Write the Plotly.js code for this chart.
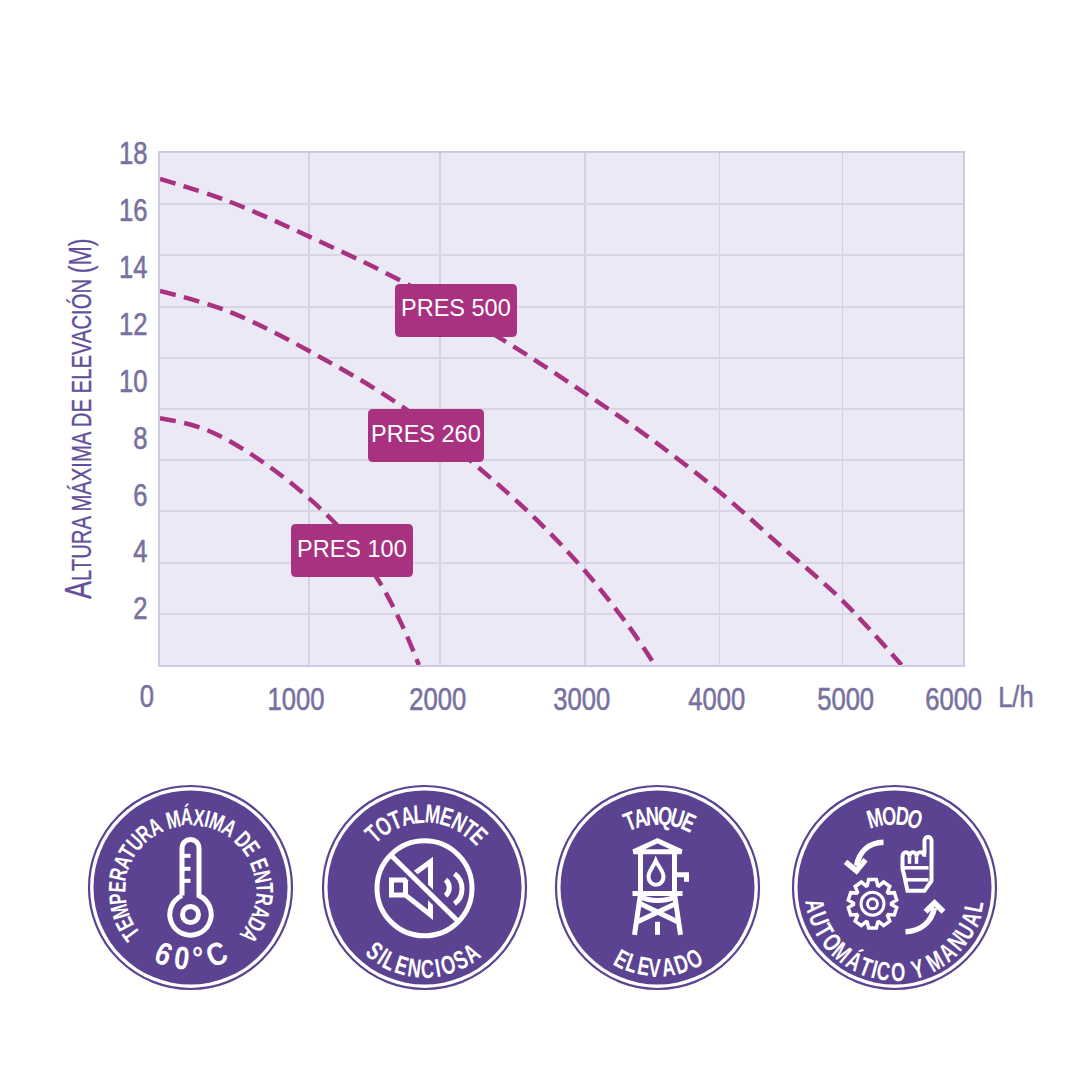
<!DOCTYPE html>
<html><head><meta charset="utf-8">
<script src="https://cdn.plot.ly/plotly-3.0.1.min.js"></script>
<style>html,body{margin:0;padding:0;background:#fff}</style></head>
<body><div id="chart" style="width:1080px;height:1080px"></div>
<script>
const flow500=[0,508,1120,1815,2562,3174,3659,4182,4630,5093,5541];
const head500=[17.09,16.31,15.05,13.47,11.43,9.56,7.98,6.08,4.22,2.29,0];
const flow260=[0,523,1195,1815,2375,2815,3174,3495,3697];
const head260=[13.15,12.41,10.83,9.07,6.96,5.10,3.31,1.41,0];
const flow100=[0,351,821,1307,1621,1815,1934];
const head100=[8.68,8.26,6.96,4.99,3.06,1.34,0];
const seriesNames=['PRES 500','PRES 260','PRES 100'];
const xTickLabels=['1000','2000','3000','4000','5000','6000'];
const xLabelAt=[1016,2076,3151,4160,5123,5930];
const xGridAt=[1113,2091,3174,4182,5101];
const yTickVals=[2,4,6,8,10,12,14,16,18];
const yGridAt=[1.8,3.6,5.4,7.2,9,10.8,12.6,14.4,16.2];

const SANS='"Liberation Sans",sans-serif';
const MAG='#a93280', PUR='#5b4392', TICK='#78719f';
const SQ=0.8;
const px=x=>x/1080, py=y=>1-y/1080;
const pathPx=s=>s.replace(/(-?[\d.]+)[ ,]+(-?[\d.]+)/g,(m,a,b)=>px(+a).toFixed(5)+','+py(+b).toFixed(5));
const shapes=[], annotations=[], squeeze=[], heavy=[];
function addPath(d,o={}){shapes.push({type:'path',xref:'paper',yref:'paper',path:pathPx(d),
  line:{color:o.color||'#fff',width:o.width===undefined?5:o.width},fillcolor:o.fill||'rgba(0,0,0,0)',layer:'above'});}
function addCircle(cx,cy,r,o={}){shapes.push({type:'circle',xref:'paper',yref:'paper',x0:px(cx-r),x1:px(cx+r),y0:py(cy+r),y1:py(cy-r),
  line:{color:o.color||'#fff',width:o.width===undefined?5:o.width},fillcolor:o.fill||'rgba(0,0,0,0)',layer:'above'});}
function addText(text,x,y,size,o={}){annotations.push({xref:'paper',yref:'paper',x:px(x),y:py(y),text,showarrow:false,
  xanchor:'center',yanchor:'middle',textangle:o.angle||0,
  font:{family:SANS,size,color:o.color||'#fff',weight:o.weight||400}});
  squeeze.push(o.squeeze||1);heavy.push(o.heavy||0);}
function label(text,x0,y0,x1,y1){const r=5;
  addPath(`M ${x0+r} ${y0} L ${x1-r} ${y0} Q ${x1} ${y0} ${x1} ${y0+r} L ${x1} ${y1-r} Q ${x1} ${y1} ${x1-r} ${y1} L ${x0+r} ${y1} Q ${x0} ${y1} ${x0} ${y1-r} L ${x0} ${y0+r} Q ${x0} ${y0} ${x0+r} ${y0} Z`,{color:MAG,width:0,fill:MAG});
  addText(text,(x0+x1)/2,(y0+y1)/2-2,23.5);}
label(seriesNames[0],395,284,517,337);
label(seriesNames[1],368,409,484,462);
label(seriesNames[2],291,524,413,577);
addText('0',147,696,32,{color:TICK,squeeze:SQ,heavy:0.6});
addText('L/h',1016,696,30,{color:TICK,squeeze:0.85,heavy:0.6});
addText('<span style="font-size:36px">A</span>LTURA MÁXIMA DE ELEVACIÓN <span style="font-size:31px">(M)</span>',78,419,27,{angle:-90,color:'#62509b',squeeze:0.75,heavy:0.3});

const ctx=document.createElement('canvas').getContext('2d');
function arcText(text,cx,cy,r,a0,a1,size,sq=0.7){
  ctx.font=`bold ${size}px "Liberation Sans"`;
  const ch=[...text],w=ch.map(c=>ctx.measureText(c).width*sq),n=ch.length;
  const bottom=a1<a0;
  const L=Math.abs(a1-a0)*Math.PI/180*r;
  const W=w.reduce((s,v)=>s+v,0)-w[0]/2-w[n-1]/2;
  const t=(L-W)/(n-1);
  let s=0;
  ch.forEach((c,i)=>{
    if(i>0) s+=w[i-1]/2+w[i]/2+t;
    const a=a0+(bottom?-1:1)*(s/r)*180/Math.PI, th=a*Math.PI/180;
    if(c!==' ') addText(c,cx+r*Math.sin(th),cy-r*Math.cos(th),size,{angle:bottom?a-180:a,weight:700,squeeze:sq});
  });
}
function arc(cx,cy,r,a0,a1,move){
  const seg=Math.ceil(Math.abs(a1-a0)/45),da=(a1-a0)/seg*Math.PI/180,k=4/3*Math.tan(da/4);
  let a=a0*Math.PI/180,d='';
  const P=a=>[cx+r*Math.sin(a),cy-r*Math.cos(a)],T=a=>[Math.cos(a),Math.sin(a)];
  if(move){const p=P(a);d+=`M ${p[0]} ${p[1]} `;}
  for(let i=0;i<seg;i++){const p0=P(a),t0=T(a),b=a+da,p1=P(b),t1=T(b);
    d+=`C ${p0[0]+k*r*t0[0]} ${p0[1]+k*r*t0[1]} ${p1[0]-k*r*t1[0]} ${p1[1]-k*r*t1[1]} ${p1[0]} ${p1[1]} `;a=b;}
  return d;
}
const badgeY=887.5, cy=890.8;
function badge(cx){addCircle(cx,badgeY,101.5,{color:PUR,width:2.2,fill:'#fff'});addCircle(cx,badgeY,97,{color:PUR,width:0,fill:PUR});}
const rel=(cx,cy,s)=>s.replace(/(-?[\d.]+)[ ,]+(-?[\d.]+)/g,(m,a,b)=>(cx+ +a)+' '+(cy+ +b));

// 1 thermometer
let c=190.5; badge(c);
arcText('TEMPERATURA MÁXIMA DE ENTRADA',c,cy,74,-126,127,24);
arcText('60°C',c,cy,68,202.5,157.5,32,0.85);
addPath(rel(c,cy,'M -8.5 4.8 L -8.5 -42 C -8.5 -54.5 8.5 -54.5 8.5 -42 L 8.5 4.8 ')+arc(c,cy+23.7,20.7,24,336,false));
addCircle(c,cy+23.7,8);
['-35','-22','-10'].forEach(y=>addPath(rel(c,cy,`M -8 ${y} L 0 ${y}`),{width:4}));

// 2 silent speaker
c=424.5; badge(c);
arcText('TOTALMENTE',c,cy,77,-42,45,26);
arcText('SILENCIOSA',c,cy,78,219.5,143,26);
addCircle(c,cy-2.5,47.5);
addPath(rel(c,cy,'M -33 -10.7 L -19 -10.7 L -19 4.3 L -33 4.3 Z'));
addPath(rel(c,cy,'M -19 -10.7 L 6 -29 L 6 24 L -19 4.3'));
addPath(rel(c,cy,'M 21 -11 C 26 -7 26 1 21 5'));
addPath(rel(c,cy,'M 30 -17 C 40 -10 40 6 30 13'));
addPath(rel(c,cy,'M -27 -29 L 27 25'),{color:PUR,width:11});
addPath(rel(c,cy,'M -34 -36 L 34 31'));

// 3 water tower
c=657.5; badge(c);
arcText('TANQUE',c,cy,75,-21.5,24,26);
arcText('ELEVADO',c,cy,77,208,152,26);
addPath(rel(c,cy,'M 0 -50 L -24 -39 L 24 -39 Z'));
addPath(rel(c,cy,'M -17 -39 L -17 2.7 L 17 2.7 L 17 -39'));
addPath(rel(c,cy,'M -25 2.7 L 25 2.7'));
addPath(rel(c,cy,'M -1.7 -30 C -4 -24 -9 -20 -9 -14 C -9 -9 -5 -6 -1.7 -6 C 2 -6 6 -9 6 -14 C 6 -20 1 -24 -1.7 -30 Z'),{width:4});
addPath(rel(c,cy,'M 19 -16 L 29 -16 L 29 -9'));
addPath(rel(c,cy,'M -17 3 L -23 44'));
addPath(rel(c,cy,'M 17 3 L 23 44'));
addPath(rel(c,cy,'M 0 31 L 0 44'));
addPath(rel(c,cy,'M -17 13 L 20 31'));
addPath(rel(c,cy,'M 18 13 L -20 31'));
addPath(rel(c,cy,'M -17 6 C -8 11 8 11 18 6'));

// 4 auto / manual
c=894.5; badge(c);
arcText('MODO',c,cy,75,-15,16,26);
arcText('AUTOMÁTICO Y MANUAL',c,cy,81,259,101,26);
addPath(rel(c,cy,'M -11 -48.5 C -25 -48 -35 -40 -38 -25'),{width:5.5});
addPath(rel(c,cy,'M -49 -29 L -38 -20 L -29 -31'),{width:5.5});
addPath(rel(c,cy,'M 11 41 C 28 40 37 30 40 17'),{width:5.5});
addPath(rel(c,cy,'M 31 21 L 40 12 L 49 21'),{width:5.5});
addPath(rel(c,cy,'M 30 -37 L 30 -50 C 30 -55 37 -55 37 -50 L 37 -10 L 30 0 L 13 0 L 10 -14 L 8 -22 L 8 -34 C 8 -40 15 -40 15 -34 C 15 -40 22 -40 22 -34 C 22 -40 30 -40 30 -34'),{width:4});
addPath(rel(c,cy,'M 15 -34 L 15 -27'),{width:3.5});
addPath(rel(c,cy,'M 22 -34 L 22 -27'),{width:3.5});
addPath(rel(c,cy,'M 8 -23 L 34 -23'),{width:3.5});
addPath(rel(c,cy,'M 12 -11 L 34 -11'),{width:3.5});
let g='';const gx=c-22,gy=cy+13,teeth=10;
for(let i=0;i<teeth;i++){const b=i*360/teeth;
  [[-18,19],[-10,24.5],[10,24.5],[18,19]].forEach(([o,r],j)=>{const th=(b+o*0.9)*Math.PI/180;
    g+=(i===0&&j===0?'M ':'L ')+(gx+r*Math.sin(th)).toFixed(2)+' '+(gy-r*Math.cos(th)).toFixed(2)+' ';});}
addPath(g+'Z',{width:3.5});
addCircle(gx,gy,11.5,{width:3});addCircle(gx,gy,5,{width:3});

const line={color:MAG,width:4.5,dash:'16px,8.5px',shape:'spline',smoothing:1};
const traces=[[flow500,head500],[flow260,head260],[flow100,head100]].map((d,i)=>({
  type:'scatter',mode:'lines',name:seriesNames[i],x:d[0],y:d[1],line,hoverinfo:'skip'}));
const layout={width:1080,height:1080,margin:{l:0,r:0,t:0,b:0},autosize:false,showlegend:false,
  paper_bgcolor:'#fff',plot_bgcolor:'#ece9f7',shapes,annotations,
  xaxis:{domain:[160/1080,963/1080],range:[0,6000],tickmode:'array',tickvals:xLabelAt,ticktext:xTickLabels,
    showgrid:false,zeroline:false,showline:true,mirror:true,linecolor:'#cdcbe3',linewidth:2,
    ticks:'outside',ticklen:5,tickcolor:'rgba(0,0,0,0)',tickfont:{family:SANS,size:32,color:TICK},
    minor:{tickmode:'array',tickvals:xGridAt,showgrid:true,gridcolor:'#d3d1e0',gridwidth:1.6,ticks:''}},
  yaxis:{domain:[1-665/1080,1-153/1080],range:[0,18],tickmode:'array',tickvals:yTickVals,ticktext:yTickVals.map(String),
    showgrid:false,zeroline:false,showline:true,mirror:true,linecolor:'#cdcbe3',linewidth:2,
    ticks:'outside',ticklen:4,tickcolor:'rgba(0,0,0,0)',ticklabelshift:0,tickfont:{family:SANS,size:32,color:TICK},
    minor:{tickmode:'array',tickvals:yGridAt,showgrid:true,gridcolor:'#d8d6e6',gridwidth:2,ticks:''}}
};
function squeezeText(el,f){if(f===1)return;const w=el.getComputedTextLength();
  el.setAttribute('textLength',(w*f).toFixed(2));el.setAttribute('lengthAdjust','spacingAndGlyphs');}
function thicken(el,w,col){if(!w)return;el.style.stroke=col;el.style.strokeWidth=w+'px';}
Plotly.newPlot('chart',traces,layout,{displayModeBar:false,staticPlot:true}).then(gd=>{
  gd.querySelectorAll('.xtick text,.ytick text').forEach(el=>{squeezeText(el,SQ);thicken(el,0.6,TICK);});
  gd.querySelectorAll('.annotation').forEach(a=>{const i=+a.getAttribute('data-index');
    const t=a.querySelector('text');if(t){squeezeText(t,squeeze[i]);thicken(t,heavy[i],annotations[i].font.color);}});
});
</script></body></html>
